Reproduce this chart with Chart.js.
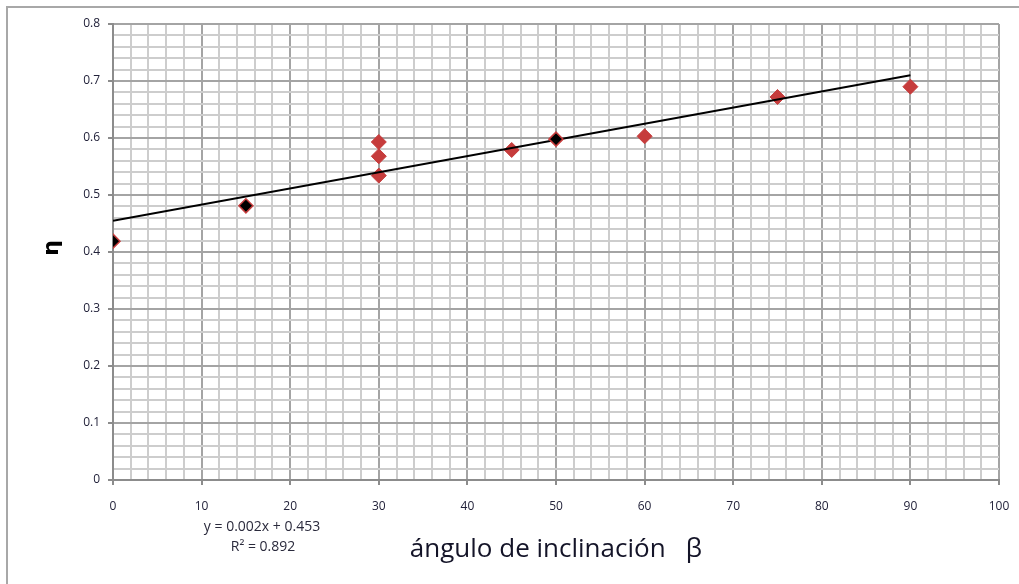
<!DOCTYPE html>
<html>
<head>
<meta charset="utf-8">
<script src="https://cdn.jsdelivr.net/npm/chart.js@4"></script>
<style>
  html, body { margin: 0; padding: 0; background: #fff; }
  #wrap { position: relative; width: 1019px; height: 584px; }
  #frame { position: absolute; left: 6px; top: 6px; right: 0; bottom: 0; border-top: 2px solid #a8a8a8; border-left: 2px solid #a8a8a8; pointer-events: none; }
  canvas { position: absolute; left: 0; top: 0; }
</style>
</head>
<body>
<div id="wrap">
  <canvas id="c" width="1019" height="584"></canvas>
  <div id="frame"></div>
</div>
<script>
// ---- data ----
const xTickLabels = ['0','10','20','30','40','50','60','70','80','90','100'];
const yTickLabels = ['0','0.1','0.2','0.3','0.4','0.5','0.6','0.7','0.8'];

const redAngles = [30, 30, 30, 45, 60, 75, 90];
const redEta    = [0.534, 0.568, 0.593, 0.579, 0.603, 0.672, 0.690];

const blackAngles = [0, 15, 50];
const blackEta    = [0.419, 0.481, 0.598];

const trendAngles = [0, 90];
const trendEta    = [0.455, 0.710];

const xTitle = 'ángulo de inclinación   β';
const yTitle = 'η';
const eqLine1 = 'y = 0.002x + 0.453';
const eqLine2 = 'R² = 0.892';

// ---- helpers ----
const toPts = (xs, ys) => xs.map((x, i) => ({ x: x, y: ys[i] }));
const xMajor = xTickLabels.map(Number);
const yMajor = yTickLabels.map(Number);
const isMajorX = v => xMajor.some(m => Math.abs(m - v) < 1e-6);
const isMajorY = v => yMajor.some(m => Math.abs(m - v) < 1e-6);

function gridTicks(majors, subdivisions) {
  const out = [];
  for (let i = 0; i < majors.length - 1; i++) {
    const a = majors[i], b = majors[i + 1];
    for (let k = 0; k < subdivisions; k++) out.push(+(a + (b - a) * k / subdivisions).toFixed(6));
  }
  out.push(majors[majors.length - 1]);
  return out;
}

const MINOR = '#cdcdcd', MAJOR = '#a4a4a4', AXIS = '#8c8c8c';
const labelColor = '#22223a';

const textPlugin = {
  id: 'texts',
  afterDraw(chart) {
    const ctx = chart.ctx;
    ctx.save();
    ctx.fillStyle = '#141428';
    ctx.textAlign = 'center';
    ctx.textBaseline = 'alphabetic';
    ctx.font = '26px "Open Sans"';
    ctx.fillText(xTitle, 556, 557);

    ctx.font = '14px "Open Sans"';
    ctx.fillStyle = '#2a2a3c';
    ctx.textBaseline = 'middle';
    ctx.fillText(eqLine1, 262, 527);
    ctx.fillText(eqLine2, 263, 547);

    ctx.translate(52, 248);
    ctx.rotate(-Math.PI / 2);
    ctx.font = 'bold 22px "DejaVu Sans"';
    ctx.fillStyle = '#000';
    ctx.fillText(yTitle, 0, 0);
    ctx.restore();
  }
};

new Chart(document.getElementById('c'), {
  type: 'scatter',
  data: {
    datasets: [
      {
        label: 'black',
        data: toPts(blackAngles, blackEta),
        pointStyle: 'rectRot',
        pointRadius: 7,
        backgroundColor: '#000',
        borderColor: '#c63c3c',
        borderWidth: 1.5,
        order: 0
      },
      {
        label: 'trend',
        type: 'line',
        data: toPts(trendAngles, trendEta),
        borderColor: '#000',
        borderWidth: 2,
        pointRadius: 0,
        fill: false,
        order: 1
      },
      {
        label: 'red',
        data: toPts(redAngles, redEta),
        pointStyle: 'rectRot',
        pointRadius: 7.5,
        backgroundColor: '#c63c3c',
        borderColor: '#c63c3c',
        borderWidth: 1,
        order: 2
      }
    ]
  },
  options: {
    responsive: false,
    devicePixelRatio: 1,
    animation: false,
    events: [],
    layout: { padding: { left: 0, top: 24, right: 20, bottom: 0 } },
    plugins: { legend: { display: false }, tooltip: { enabled: false } },
    scales: {
      x: {
        type: 'linear',
        min: 0, max: 100,
        afterFit: s => { s.height = 104; s.paddingLeft = 0; s.paddingRight = 0; },
        afterBuildTicks: s => { s.ticks = gridTicks(xMajor, 5).map(v => ({ value: v })); },
        border: { color: AXIS, width: 2 },
        grid: {
          lineWidth: 2,
          tickLength: 5,
          color: c => (c.tick && isMajorX(c.tick.value)) ? MAJOR : MINOR,
          tickColor: c => (c.tick && isMajorX(c.tick.value)) ? AXIS : 'rgba(0,0,0,0)'
        },
        ticks: {
          autoSkip: false,
          maxRotation: 0, minRotation: 0,
          padding: 14,
          color: labelColor,
          font: { family: '"Open Sans"', size: 12 },
          callback: v => { const i = xMajor.findIndex(m => Math.abs(m - v) < 1e-6); return i >= 0 ? xTickLabels[i] : ''; }
        }
      },
      y: {
        type: 'linear',
        min: 0, max: 0.8,
        afterFit: s => { s.width = 113; s.paddingTop = 0; s.paddingBottom = 0; },
        afterBuildTicks: s => { s.ticks = gridTicks(yMajor, 5).map(v => ({ value: v })); },
        border: { color: AXIS, width: 2 },
        grid: {
          lineWidth: 2,
          tickLength: 5,
          color: c => (c.tick && isMajorY(c.tick.value)) ? MAJOR : MINOR,
          tickColor: c => (c.tick && isMajorY(c.tick.value)) ? AXIS : 'rgba(0,0,0,0)'
        },
        ticks: {
          autoSkip: false,
          padding: 8,
          color: labelColor,
          font: { family: '"Open Sans"', size: 12 },
          callback: v => { const i = yMajor.findIndex(m => Math.abs(m - v) < 1e-6); return i >= 0 ? yTickLabels[i] : ''; }
        }
      }
    }
  },
  plugins: [textPlugin]
});
</script>
</body>
</html>
